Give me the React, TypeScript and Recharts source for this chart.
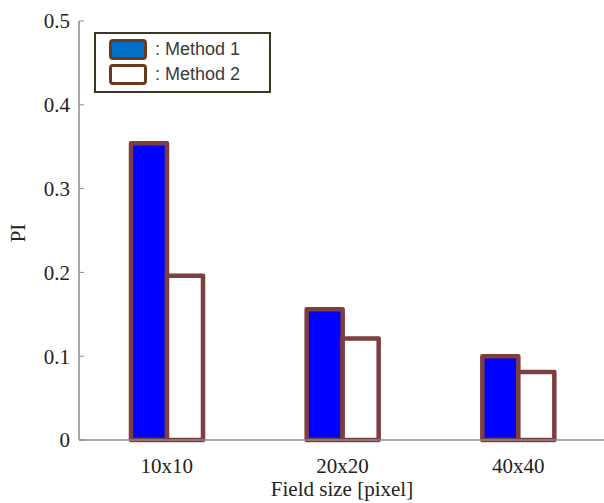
import { Bar, BarChart, XAxis, YAxis } from "recharts";

const fieldSizes = ["10x10", "20x20", "40x40"];
const method1 = [0.354, 0.156, 0.1];
const method2 = [0.196, 0.121, 0.081];
const yTicks = [0, 0.1, 0.2, 0.3, 0.4, 0.5];

const data = fieldSizes.map((name, i) => ({ name, m1: method1[i], m2: method2[i] }));

const serif = "'Liberation Serif', 'Times New Roman', serif";
const axisGray = "#8a8a8a";
const barEdge = "#7d3e3e";

function LegendBox() {
  const row = (fill: string, text: string, y: number) => (
    <div style={{ display: "flex", alignItems: "center", height: 25, marginTop: y }}>
      <div
        style={{
          width: 32,
          height: 15,
          background: fill,
          border: "3px solid #6b3a1e",
          borderRadius: 4,
          marginRight: 8,
        }}
      />
      <span style={{ fontFamily: "'Liberation Sans', Arial, sans-serif", fontSize: 18, color: "#3a3a3a" }}>
        : {text}
      </span>
    </div>
  );
  return (
    <div
      style={{
        position: "absolute",
        left: 94,
        top: 32,
        width: 160,
        height: 56,
        border: "2px solid #3d3826",
        boxSizing: "content-box",
        padding: "1px 0 0 13px",
        background: "#fff",
      }}
    >
      {row("#0070c8", "Method 1", 2)}
      {row("#fff", "Method 2", 0)}
    </div>
  );
}

export default function App() {
  return (
    <div style={{ position: "absolute", left: 0, top: 0, width: 604, height: 503, overflow: "hidden", background: "#fff" }}>
      <BarChart
        width={610}
        height={503}
        data={data}
        margin={{ top: 21, right: 4, bottom: 0, left: 0 }}
        barGap={0}
        barCategoryGap={0}
      >
        <XAxis
          dataKey="name"
          height={63}
          tickLine={false}
          axisLine={{ stroke: axisGray, strokeWidth: 1.5 }}
          tickMargin={12}
          tick={{ fill: "#222", fontSize: 21, fontFamily: serif }}
          label={{
            content: () => (
              <text x={342} y={491} textAnchor="middle" dominantBaseline="middle" fill="#222" fontSize={21} fontFamily={serif}>
                Field size [pixel]
              </text>
            ),
          }}
        />
        <XAxis
          xAxisId="top"
          orientation="top"
          dataKey="name"
          height={0}
          tickSize={-5}
          tickFormatter={() => ""}
          axisLine={{ stroke: axisGray, strokeWidth: 1.5 }}
          tickLine={{ stroke: axisGray }}
        />
        <YAxis
          width={79}
          domain={[0, 0.5]}
          ticks={yTicks}
          tickSize={-5}
          tickMargin={14}
          axisLine={{ stroke: axisGray, strokeWidth: 1.5 }}
          tickLine={{ stroke: axisGray }}
          tickFormatter={(v: number) => (v === 0 ? "0" : v.toFixed(1))}
          tick={{ fill: "#222", fontSize: 21, fontFamily: serif }}
          label={{
            content: () => (
              <text
                x={20}
                y={233}
                transform="rotate(-90, 20, 233)"
                textAnchor="middle"
                dominantBaseline="middle"
                fill="#222"
                fontSize={21}
                fontFamily={serif}
              >
                PI
              </text>
            ),
          }}
        />
        <Bar
          dataKey="m1"
          name="Method 1"
          barSize={36}
          fill="#0000ff"
          stroke={barEdge}
          strokeWidth={4.5}
          strokeLinejoin="round"
          isAnimationActive={false}
        />
        <Bar
          dataKey="m2"
          name="Method 2"
          barSize={36}
          fill="#ffffff"
          stroke={barEdge}
          strokeWidth={4.5}
          strokeLinejoin="round"
          isAnimationActive={false}
        />
      </BarChart>
      <LegendBox />
    </div>
  );
}
